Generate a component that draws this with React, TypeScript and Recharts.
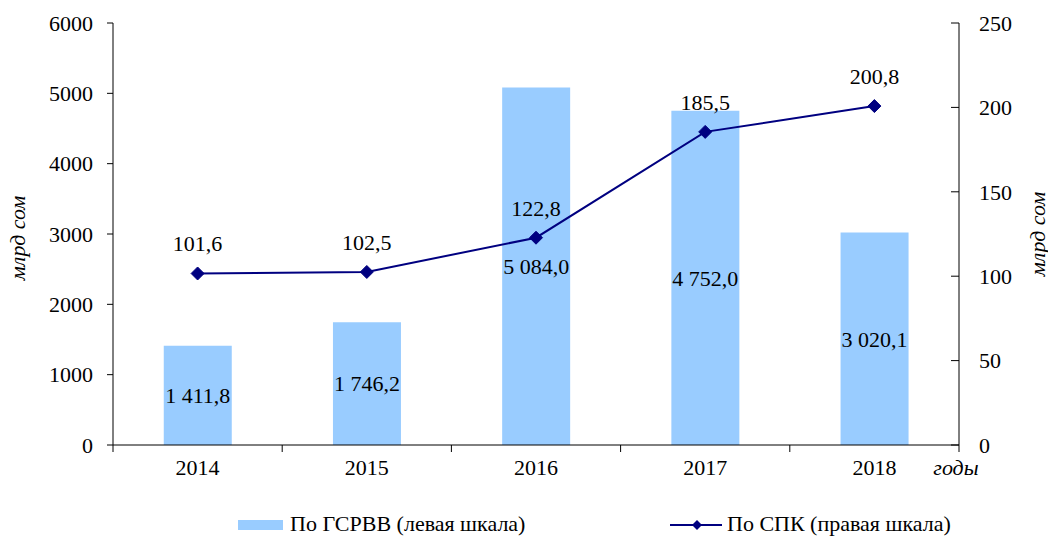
import React from "react";
import {
  ComposedChart,
  Bar,
  Line,
  XAxis,
  YAxis,
  Legend,
  LabelList,
  Label,
} from "recharts";

const years = ["2014", "2015", "2016", "2017", "2018"];
const gsrrvValues = [1411.8, 1746.2, 5084.0, 4752.0, 3020.1];
const spkValues = [101.6, 102.5, 122.8, 185.5, 200.8];
const leftTicks = [0, 1000, 2000, 3000, 4000, 5000, 6000];
const rightTicks = [0, 50, 100, 150, 200, 250];

const barName = "По ГСРВВ (левая шкала)";
const lineName = "По СПК (правая шкала)";
const yLabel = "млрд сом";
const xLabel = "годы";

const BAR_COLOR = "#99CCFF";
const LINE_COLOR = "#000080";
const FONT = "'Liberation Serif', 'Times New Roman', serif";
const FS = 22;

const data = years.map((y, i) => ({
  year: y,
  gsrrv: gsrrvValues[i],
  spk: spkValues[i],
}));

const fmt = (v: number) => {
  const fixed = Number(v).toFixed(1);
  const [intPart, dec] = fixed.split(".");
  const withSpaces = intPart.replace(/\B(?=(\d{3})+(?!\d))/g, " ");
  return `${withSpaces},${dec}`;
};

const Diamond = (props: any) => {
  const { cx, cy } = props;
  if (cx == null || cy == null) return null;
  const r = 6.5;
  return (
    <polygon
      points={`${cx},${cy - r} ${cx + r},${cy} ${cx},${cy + r} ${cx - r},${cy}`}
      fill={LINE_COLOR}
      stroke={LINE_COLOR}
    />
  );
};

const RightTick = (props: any) => {
  const { x, y, payload } = props;
  const axisX = x - 20;
  return (
    <g>
      <line x1={axisX - 8} y1={y} x2={axisX} y2={y} stroke="#000" strokeWidth={1} />
      <text x={x} y={y} dy="0.35em" textAnchor="start" fontFamily={FONT} fontSize={FS} fill="#000">
        {payload.value}
      </text>
    </g>
  );
};

const CatTick = (props: any) => {
  const { x, y, payload, index, visibleTicksCount } = props;
  const half = payload && payload.offset ? payload.offset : 0;
  const axisY = y - 14;
  const last = index === (visibleTicksCount ?? 5) - 1;
  return (
    <g>
      <line x1={x - half} y1={axisY} x2={x - half} y2={axisY + 7} stroke="#000" strokeWidth={1} />
      {last ? (
        <line x1={x + half} y1={axisY} x2={x + half} y2={axisY + 7} stroke="#000" strokeWidth={1} />
      ) : null}
      <text x={x} y={y} dy="0.71em" textAnchor="middle" fontFamily={FONT} fontSize={FS} fill="#000">
        {payload.value}
      </text>
    </g>
  );
};

const LeftTitle = (props: any) => {
  const vb = props.viewBox || { x: 53, y: 23, width: 60, height: 422 };
  const cx = vb.x - 36;
  const cy = vb.y + vb.height / 2 + 4;
  return (
    <text
      x={cx}
      y={cy}
      transform={`rotate(-90 ${cx} ${cy})`}
      textAnchor="middle"
      dominantBaseline="central"
      fontFamily={FONT}
      fontSize={FS}
      fontStyle="italic"
      fill="#000"
    >
      {yLabel}
    </text>
  );
};

const RightTitle = (props: any) => {
  const vb = props.viewBox || { x: 959, y: 23, width: 60, height: 422 };
  const cx = vb.x + 78;
  const cy = vb.y + vb.height / 2;
  return (
    <text
      x={cx}
      y={cy}
      transform={`rotate(-90 ${cx} ${cy})`}
      textAnchor="middle"
      dominantBaseline="central"
      fontFamily={FONT}
      fontSize={FS}
      fontStyle="italic"
      fill="#000"
    >
      {yLabel}
    </text>
  );
};

const XTitle = (props: any) => {
  const vb = props.viewBox || { x: 113, y: 445, width: 846, height: 31 };
  return (
    <text
      x={vb.x + vb.width - 3}
      y={vb.y + 30}
      textAnchor="middle"
      fontFamily={FONT}
      fontSize={FS}
      fontStyle="italic"
      fill="#000"
    >
      {xLabel}
    </text>
  );
};

const LegendContent = () => {
  return (
    <svg width={1048} height={28} style={{ display: "block" }}>
      <rect x={238} y={12} width={45} height={10} fill={BAR_COLOR} />
      <text x={290} y={23} fontFamily={FONT} fontSize={FS} fill="#000">
        {barName}
      </text>
      <line x1={670} y1={17} x2={722} y2={17} stroke={LINE_COLOR} strokeWidth={2} />
      <polygon points="697,12 702,17 697,22 692,17" fill={LINE_COLOR} />
      <text x={727} y={23} fontFamily={FONT} fontSize={FS} fill="#000">
        {lineName}
      </text>
    </svg>
  );
};

export default function App() {
  return (
    <div
      style={{
        position: "absolute",
        left: 0,
        top: 0,
        width: 1048,
        height: 536,
        overflow: "hidden",
        fontFamily: FONT,
      }}
    >
      <ComposedChart
        width={1048}
        height={536}
        data={data}
        margin={{ top: 23, right: 29, left: 53, bottom: 60 }}
        barCategoryGap="30%"
      >
        <XAxis
          dataKey="year"
          height={31}
          axisLine={{ stroke: "#000", strokeWidth: 1 }}
          tickLine={false}
          tickSize={0}
          tickMargin={14}
          interval={0}
          tick={<CatTick />}
        >
          <Label content={<XTitle />} />
        </XAxis>
        <YAxis
          yAxisId="left"
          orientation="left"
          width={60}
          domain={[0, 6000]}
          ticks={leftTicks}
          tickSize={6}
          tickMargin={14}
          axisLine={{ stroke: "#000", strokeWidth: 1 }}
          tickLine={{ stroke: "#000", strokeWidth: 1 }}
          tick={{ fontFamily: FONT, fontSize: FS, fill: "#000" }}
        >
          <Label content={<LeftTitle />} />
        </YAxis>
        <YAxis
          yAxisId="right"
          orientation="right"
          width={60}
          domain={[0, 250]}
          ticks={rightTicks}
          tickSize={0}
          tickMargin={20}
          axisLine={{ stroke: "#000", strokeWidth: 1 }}
          tickLine={false}
          tick={<RightTick />}
        >
          <Label content={<RightTitle />} />
        </YAxis>
        <Bar
          yAxisId="left"
          dataKey="gsrrv"
          name={barName}
          fill={BAR_COLOR}
          isAnimationActive={false}
        >
          <LabelList
            dataKey="gsrrv"
            position="center"
            formatter={(v: any) => fmt(v)}
            style={{ fontFamily: FONT, fontSize: FS, fill: "#000" }}
          />
        </Bar>
        <Line
          yAxisId="right"
          type="linear"
          dataKey="spk"
          name={lineName}
          stroke={LINE_COLOR}
          strokeWidth={2}
          dot={<Diamond />}
          activeDot={false}
          isAnimationActive={false}
        >
          <LabelList
            dataKey="spk"
            position="top"
            offset={22}
            formatter={(v: any) => fmt(v)}
            style={{ fontFamily: FONT, fontSize: FS, fill: "#000" }}
          />
        </Line>
        <Legend
          layout="horizontal"
          verticalAlign="middle"
          align="center"
          content={<LegendContent />}
          wrapperStyle={{ top: 508, left: 0, width: 1048, height: 28 }}
        />
      </ComposedChart>
    </div>
  );
}
